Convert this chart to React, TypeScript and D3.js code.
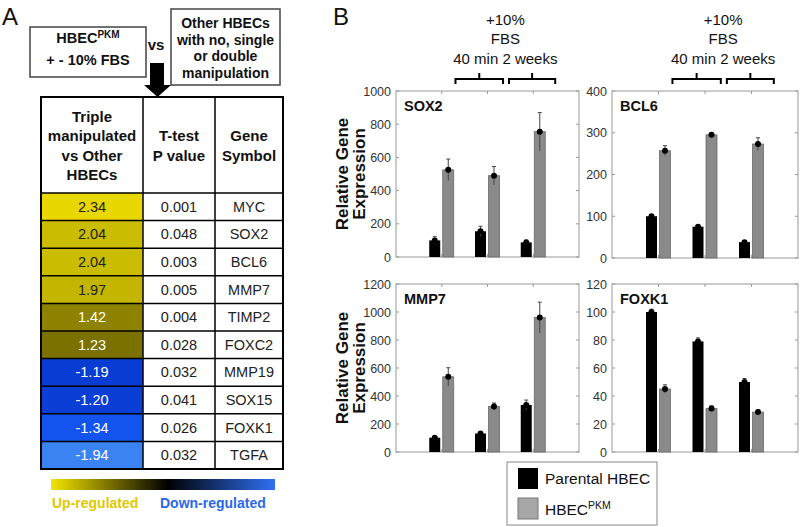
import * as d3 from "d3";
import React from "react";

// panel A table
const genes = ["MYC", "SOX2", "BCL6", "MMP7", "TIMP2", "FOXC2", "MMP19", "SOX15", "FOXK1", "TGFA"];
const foldChange = [2.34, 2.04, 2.04, 1.97, 1.42, 1.23, -1.19, -1.2, -1.34, -1.94];
const pValues = ["0.001", "0.048", "0.003", "0.005", "0.004", "0.028", "0.032", "0.041", "0.026", "0.032"];

// panel B bars: groups = no FBS, +10% FBS 40 min, +10% FBS 2 weeks
const groups = ["control", "40 min", "2 weeks"];
const sox2Parental = [100, 155, 88];
const sox2ParentalErr = [22, 30, 15];
const sox2Pkm = [525, 490, 755];
const sox2PkmErr = [65, 55, 115];
const bcl6Parental = [100, 75, 38];
const bcl6ParentalErr = [4, 3, 3];
const bcl6Pkm = [257, 295, 273];
const bcl6PkmErr = [12, 3, 15];
const mmp7Parental = [102, 132, 336];
const mmp7ParentalErr = [8, 6, 35];
const mmp7Pkm = [537, 325, 960];
const mmp7PkmErr = [65, 25, 110];
const foxk1Parental = [100, 79, 50];
const foxk1ParentalErr = [2, 2.5, 2.5];
const foxk1Pkm = [45, 31, 28.5];
const foxk1PkmErr = [3, 2, 1.5];

const FONT = "'Liberation Sans', Arial, sans-serif";

const heat = d3
  .scaleLinear<string>()
  .domain([-2, -1.3, -1.15, 0, 2.4])
  .range(["#3f88f2", "#1050ee", "#0735c8", "#000000", "#eedd00"]);

interface PanelProps {
  title: string;
  x: number;
  y: number;
  w: number;
  h: number;
  yMax: number;
  step: number;
  parental: number[];
  parentalErr: number[];
  pkm: number[];
  pkmErr: number[];
  ylabel?: boolean;
  brackets?: boolean;
}

const BarPanel: React.FC<PanelProps> = (p) => {
  const xs = d3.scaleLinear().domain([0, groups.length + 1]).range([p.x, p.x + p.w]);
  const ys = d3.scaleLinear().domain([0, p.yMax]).range([p.y + p.h, p.y]);
  const ticks = d3.range(0, p.yMax + p.step / 2, p.step);
  const bw = 11;

  const errBar = (cx: number, v: number, e: number, k: string) => (
    <g key={k}>
      <line x1={cx} x2={cx} y1={ys(v + e)} y2={ys(v - e)} stroke="#444" strokeWidth={1} />
      <line x1={cx - 2} x2={cx + 2} y1={ys(v + e)} y2={ys(v + e)} stroke="#444" strokeWidth={1} />
      <circle cx={cx} cy={ys(v)} r={3} fill="#000" />
    </g>
  );

  const bracket = (a: number, b: number, k: string) => {
    const x1 = xs(a), x2 = xs(b), xm = (x1 + x2) / 2;
    return (
      <path key={k} d={`M${x1},84V79H${x2}V84M${xm},79V73`} fill="none" stroke="#000" strokeWidth={2} />
    );
  };

  return (
    <g fontFamily={FONT}>
      {p.brackets && (
        <g>
          {bracket(1.3, 2.34, "b1")}
          {bracket(2.47, 3.48, "b2")}
          <text x={xs(2.39)} textAnchor="middle" fontSize={15} fill="#111">
            <tspan y={25}>+10%</tspan>
            <tspan x={xs(2.39)} y={43.5}>FBS</tspan>
            <tspan x={xs(2.39)} y={64}>40 min 2 weeks</tspan>
          </text>
        </g>
      )}
      <rect x={p.x} y={p.y} width={p.w} height={p.h} fill="#fff" stroke="#999" strokeWidth={1} />
      {ticks.map((t) => (
        <g key={t}>
          <line x1={p.x} x2={p.x + 3} y1={ys(t)} y2={ys(t)} stroke="#999" />
          <line x1={p.x + p.w - 3} x2={p.x + p.w} y1={ys(t)} y2={ys(t)} stroke="#999" />
          <text x={p.x - 5} y={ys(t) + 4.5} textAnchor="end" fontSize={12.5} fill="#333">
            {t}
          </text>
        </g>
      ))}
      {groups.map((g, i) => (
        <g key={g}>
          <line x1={xs(i + 1)} x2={xs(i + 1)} y1={p.y} y2={p.y + 3} stroke="#999" />
          <line x1={xs(i + 1)} x2={xs(i + 1)} y1={p.y + p.h - 3} y2={p.y + p.h} stroke="#999" />
          <rect x={xs(i + 1) - 12.5} y={ys(p.parental[i])} width={bw} height={ys(0) - ys(p.parental[i])} fill="#000" />
          <rect
            x={xs(i + 1) + 1}
            y={ys(p.pkm[i])}
            width={bw}
            height={ys(0) - ys(p.pkm[i])}
            fill="#8a8a8a"
            stroke="#6a6a6a"
            strokeWidth={0.8}
          />
          {errBar(xs(i + 1) - 7, p.parental[i], p.parentalErr[i], "pe")}
          {errBar(xs(i + 1) + 6.5, p.pkm[i], p.pkmErr[i], "ke")}
        </g>
      ))}
      <text x={p.x + 8} y={p.y + 20} fontSize={14.5} fontWeight="bold" fill="#111">
        {p.title}
      </text>
      {p.ylabel && (
        <g fontSize={17} fontWeight="bold" fill="#111" textAnchor="middle">
          <text transform={`translate(${p.x - 48},${p.y + p.h / 2}) rotate(-90)`}>Relative Gene</text>
          <text transform={`translate(${p.x - 31.5},${p.y + p.h / 2}) rotate(-90)`}>Expression</text>
        </g>
      )}
    </g>
  );
};

const App: React.FC = () => {
  const colX = [41, 143, 215, 283];
  const tableTop = 97;
  const headBottom = 193;
  const rowH = 27.6;
  const rowY = d3.scaleLinear().domain([0, genes.length]).range([headBottom, headBottom + rowH * genes.length]);
  const tableBottom = rowY(genes.length);

  return (
    <svg
      width={800}
      height={527}
      style={{ position: "absolute", left: 0, top: 0, background: "white" }}
      fontFamily={FONT}
    >
      <defs>
        <linearGradient id="heatbar" x1="0" x2="1" y1="0" y2="0">
          <stop offset="0" stopColor="#f4e400" />
          <stop offset="0.52" stopColor="#000000" />
          <stop offset="1" stopColor="#2f70f5" />
        </linearGradient>
      </defs>

      {/* Panel A */}
      <text x={2} y={25} fontSize={24} fill="#111">A</text>
      <rect x={30} y={27} width={116} height={50} fill="#fff" stroke="#444" strokeWidth={1.5} />
      <text x={88} y={43} textAnchor="middle" fontSize={14.5} fontWeight="bold" fill="#111">
        HBEC<tspan fontSize={10} dy={-5}>PKM</tspan>
      </text>
      <text x={88} y={65} textAnchor="middle" fontSize={14.5} fontWeight="bold" fill="#111">+ - 10% FBS</text>
      <text x={156} y={50} textAnchor="middle" fontSize={15} fontWeight="bold" fill="#111">vs</text>
      <rect x={171} y={9} width={109} height={76} fill="#fff" stroke="#444" strokeWidth={1.5} />
      <g textAnchor="middle" fontSize={14} fontWeight="bold" fill="#111">
        <text x={225.5} y={28}>Other HBECs</text>
        <text x={225.5} y={44.5}>with no, single</text>
        <text x={225.5} y={61}>or double</text>
        <text x={225.5} y={77.5}>manipulation</text>
      </g>
      <polygon points="150,63 164,63 164,85 171,85 157.5,97 144,85 150,85" fill="#000" />

      {genes.map((g, i) => (
        <g key={g}>
          <rect x={colX[0]} y={rowY(i)} width={colX[1] - colX[0]} height={rowH} fill={heat(foldChange[i])} />
          <text
            x={(colX[0] + colX[1]) / 2}
            y={rowY(i) + rowH / 2 + 5}
            textAnchor="middle"
            fontSize={14.5}
            fill={foldChange[i] > 1.5 ? "#222" : "#fff"}
          >
            {foldChange[i].toFixed(2)}
          </text>
          <text x={(colX[1] + colX[2]) / 2} y={rowY(i) + rowH / 2 + 5} textAnchor="middle" fontSize={14.5} fill="#222">
            {pValues[i]}
          </text>
          <text x={(colX[2] + colX[3]) / 2} y={rowY(i) + rowH / 2 + 5} textAnchor="middle" fontSize={14.5} fill="#222">
            {g}
          </text>
          <line x1={colX[0]} x2={colX[3]} y1={rowY(i)} y2={rowY(i)} stroke="#000" strokeWidth={1.5} />
        </g>
      ))}
      <line x1={colX[1]} x2={colX[1]} y1={tableTop} y2={tableBottom} stroke="#000" strokeWidth={1.5} />
      <line x1={colX[2]} x2={colX[2]} y1={tableTop} y2={tableBottom} stroke="#000" strokeWidth={1.5} />
      <rect x={colX[0]} y={tableTop} width={colX[3] - colX[0]} height={tableBottom - tableTop} fill="none" stroke="#000" strokeWidth={2} />
      <g textAnchor="middle" fontSize={15} fontWeight="bold" fill="#111">
        <text x={(colX[0] + colX[1]) / 2} y={122}>Triple</text>
        <text x={(colX[0] + colX[1]) / 2} y={141.3}>manipulated</text>
        <text x={(colX[0] + colX[1]) / 2} y={160.6}>vs Other</text>
        <text x={(colX[0] + colX[1]) / 2} y={179.9}>HBECs</text>
        <text x={(colX[1] + colX[2]) / 2} y={141.3}>T-test</text>
        <text x={(colX[1] + colX[2]) / 2} y={160.6}>P value</text>
        <text x={(colX[2] + colX[3]) / 2} y={141.3}>Gene</text>
        <text x={(colX[2] + colX[3]) / 2} y={160.6}>Symbol</text>
      </g>

      <rect x={51} y={479} width={224} height={11} fill="url(#heatbar)" />
      <text x={52} y={508} fontSize={14} fontWeight="bold" fill="#e2c800">Up-regulated</text>
      <text x={160} y={508} fontSize={14} fontWeight="bold" fill="#2a68e8">Down-regulated</text>

      {/* Panel B */}
      <text x={333} y={25} fontSize={24} fill="#111">B</text>
      <BarPanel title="SOX2" x={396} y={91} w={183} h={166} yMax={1000} step={200}
        parental={sox2Parental} parentalErr={sox2ParentalErr} pkm={sox2Pkm} pkmErr={sox2PkmErr} ylabel brackets />
      <BarPanel title="BCL6" x={612} y={91} w={186} h={167} yMax={400} step={100}
        parental={bcl6Parental} parentalErr={bcl6ParentalErr} pkm={bcl6Pkm} pkmErr={bcl6PkmErr} brackets />
      <BarPanel title="MMP7" x={396} y={284} w={183} h={168} yMax={1200} step={200}
        parental={mmp7Parental} parentalErr={mmp7ParentalErr} pkm={mmp7Pkm} pkmErr={mmp7PkmErr} ylabel />
      <BarPanel title="FOXK1" x={612} y={284} w={186} h={168} yMax={120} step={20}
        parental={foxk1Parental} parentalErr={foxk1ParentalErr} pkm={foxk1Pkm} pkmErr={foxk1PkmErr} />

      {/* legend */}
      <rect x={507} y={462} width={150} height={63} fill="#fff" stroke="#888" strokeWidth={1} />
      <rect x={518} y={468} width={20} height={21} fill="#000" />
      <rect x={518} y={498} width={20} height={21} fill="#a6a6a6" stroke="#777" strokeWidth={1} />
      <text x={545} y={484} fontSize={15.5} fill="#111">Parental HBEC</text>
      <text x={545} y={515} fontSize={15.5} fill="#111">
        HBEC<tspan fontSize={10.5} dy={-6}>PKM</tspan>
      </text>
    </svg>
  );
};

export default App;
